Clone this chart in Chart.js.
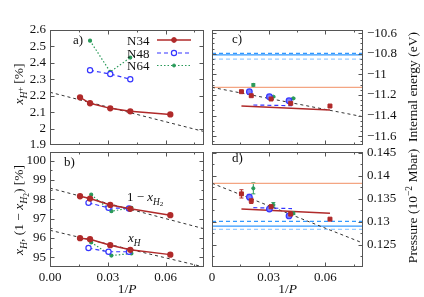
<!DOCTYPE html>
<html><head><meta charset="utf-8">
<script src="https://cdn.jsdelivr.net/npm/chart.js@4.4.1/dist/chart.umd.min.js"></script>
<style>
html,body{margin:0;padding:0;background:#fff;width:424px;height:297px;overflow:hidden}
canvas{position:absolute;left:0;top:0}
</style></head><body>
<canvas id="pa" width="424" height="297"></canvas>
<canvas id="pb" width="424" height="297"></canvas>
<canvas id="pc" width="424" height="297"></canvas>
<canvas id="pd" width="424" height="297"></canvas>
<script>
// ---------- data ----------
const xTicks = [0, 0.03, 0.06];
const xMinorTicks = [0.015, 0.045, 0.075];
const xFitEnds = [0, 0.08];

const invP_N34 = [0.0156, 0.0208, 0.0313, 0.0417, 0.0625];
const invP_N48 = [0.0208, 0.0313, 0.0417];
const invP_N64 = [0.0208, 0.0313, 0.0417];
const invP_N48_b = [0.0200, 0.0304, 0.0410];
const invP_N64_b = [0.0214, 0.0319, 0.0423];
const invP_N48_cd = [0.0198, 0.0304, 0.0408];
const invP_N64_cd = [0.0219, 0.0325, 0.0431];
const invP_fitN34 = [0.0156, 0.0625];
const invP_fitN48 = [0.0219, 0.0424];

// panel a: x_H+ [%]
const yTicksA = [1.9, 2.0, 2.1, 2.2, 2.3, 2.4, 2.5, 2.6];
const yMinorA = [];
const xHplus_N34 = [2.190, 2.154, 2.123, 2.105, 2.086];
const xHplus_N48 = [2.355, 2.332, 2.300];
const xHplus_N64 = [2.535, 2.345, 2.432];
const xHplus_fit = [2.221, 1.982];

// panel b: x_H and 1-x_H2 [%]
const yTicksB = [95, 96, 97, 98, 99, 100];
const yMinorB = [94.5, 95.5, 96.5, 97.5, 98.5, 99.5];
const oneMinusXH2_N34 = [98.16, 98.04, 97.71, 97.51, 97.18];
const oneMinusXH2_N48 = [97.82, 97.56, 97.53];
const oneMinusXH2_N64 = [98.24, 97.39, 97.56];
const oneMinusXH2_fit = [98.58, 96.48];
const xH_N34 = [95.99, 95.94, 95.63, 95.39, 95.14];
const xH_N48 = [95.48, 95.29, 95.29];
const xH_N64 = [95.77, 95.09, 95.20];
const xH_fit = [96.40, 94.50];

// panel c: internal energy (eV)
const yTicksC = [-11.6, -11.4, -11.2, -11.0, -10.8, -10.6];
const yMinorC = [-11.65,-11.55,-11.5,-11.45,-11.35,-11.3,-11.25,-11.15,-11.1,-11.05,-10.95,-10.9,-10.85,-10.75,-10.7,-10.65];
const E_N34 = [-11.168, -11.207, -11.239, -11.281, -11.307];
const E_N34_err = [0.006, 0.006, 0.005, 0.005, 0.004];
const E_N48 = [-11.168, -11.217, -11.256];
const E_N48_err = [0.006, 0.005, 0.005];
const E_N64 = [-11.103, -11.217, -11.233];
const E_N64_err = [0.013, 0.006, 0.005];
const E_fitN34 = [-11.307, -11.346];
const E_fitN48 = [-11.297, -11.304];
const E_extrap = [-11.126, -11.411];
const E_refOrange = -11.126;
const E_refBlue = [-10.796, -10.812, -10.852];

// panel d: pressure (1e-2 Mbar)
const yTicksD = [0.125, 0.13, 0.135, 0.14, 0.145];
const yMinorD = [0.1225, 0.1275, 0.1325, 0.1375, 0.1425];
const P_N34 = [0.1361, 0.1346, 0.1333, 0.1317, 0.1306];
const P_N34_err = [0.0009, 0.0006, 0.0004, 0.0003, 0.0002];
const P_N48 = [0.1354, 0.1328, 0.1313];
const P_N48_err = [0.0006, 0.0004, 0.0003];
const P_N64 = [0.1373, 0.1337, 0.1319];
const P_N64_err = [0.0012, 0.0005, 0.0003];
const P_fitN34 = [0.1328, 0.1319];
const P_fitN48 = [0.1331, 0.1329];
const P_extrap = [0.1384, 0.1254];
const P_refOrange = 0.1384;
const P_refBlue = [0.1301, 0.1291, 0.1284];

// ---------- styles ----------
const FONT = '"Liberation Serif","DejaVu Serif",serif';
const FS = 13;
const RED = '#b02a2a', BLUE = '#3535ff', GREEN = '#2a9a5a', DARK = '#333', ORANGE = '#f4a582', SKY = '#3399ff', SKY2 = '#99ccff';
const W = 424, H = 297;

function pts(xs, ys) { return xs.map((x, i) => ({x: x, y: ys[i]})); }
function hline(v) { return xFitEnds.map(x => ({x: x, y: v})); }

function drawRich(ctx, parts, x, y, rot, size, align) {
  ctx.save();
  ctx.translate(x, y); ctx.rotate(rot || 0);
  let w = 0;
  const items = parts.map(p => {
    const s = size * (p.s || 1);
    const font = (p.it ? 'italic ' : '') + s + 'px ' + FONT;
    ctx.font = font;
    const mw = ctx.measureText(p.t).width;
    w += mw;
    return {t: p.t, font: font, w: mw, dy: (p.dy || 0) * size};
  });
  let cx = align === 'center' ? -w / 2 : 0;
  ctx.textBaseline = 'alphabetic'; ctx.textAlign = 'left'; ctx.fillStyle = '#111';
  items.forEach(it => { ctx.font = it.font; ctx.fillText(it.t, cx, it.dy); cx += it.w; });
  ctx.restore();
}

function marker(ctx, style, x, y) {
  ctx.save();
  ctx.setLineDash([]);
  ctx.beginPath(); ctx.arc(x, y, style.r, 0, Math.PI * 2);
  ctx.fillStyle = style.fill; ctx.fill();
  ctx.lineWidth = style.bw || 1; ctx.strokeStyle = style.stroke; ctx.stroke();
  ctx.restore();
}

const deco = {
  id: 'deco',
  beforeDatasetsDraw(chart, args, o) {
    const ctx = chart.ctx, xs = chart.scales.x, ys = chart.scales.y;
    chart.data.datasets.forEach(ds => {
      if (!ds.errs) return;
      ctx.save(); ctx.strokeStyle = ds.errColor || ds.borderColor; ctx.lineWidth = 1; ctx.setLineDash([]);
      ds.data.forEach((p, j) => {
        const e = ds.errs[j]; if (!e) return;
        const px = xs.getPixelForValue(p.x), y1 = ys.getPixelForValue(p.y - e), y2 = ys.getPixelForValue(p.y + e);
        ctx.beginPath();
        ctx.moveTo(px, y1); ctx.lineTo(px, y2);
        ctx.moveTo(px - 2, y1); ctx.lineTo(px + 2, y1);
        ctx.moveTo(px - 2, y2); ctx.lineTo(px + 2, y2);
        ctx.stroke();
      });
      ctx.restore();
    });
  },
  afterDraw(chart, args, o) {
    const ctx = chart.ctx, a = chart.chartArea, xs = chart.scales.x, ys = chart.scales.y;
    const L = Math.round(a.left) + 0.5, R = Math.round(a.right) - 0.5, T = Math.round(a.top) + 0.5, B = Math.round(a.bottom) - 0.5;
    ctx.save();
    ctx.strokeStyle = '#555'; ctx.lineWidth = 1; ctx.setLineDash([]);
    ctx.strokeRect(L, T, R - L, B - T);
    ctx.beginPath();
    const xt = (list, len) => list.forEach(v => { const p = Math.round(xs.getPixelForValue(v)) + 0.5; if (p < L + 1 || p > R - 1) return; ctx.moveTo(p, B); ctx.lineTo(p, B - len); ctx.moveTo(p, T); ctx.lineTo(p, T + len); });
    const yt = (list, len) => list.forEach(v => { const p = Math.round(ys.getPixelForValue(v)) + 0.5; if (p < T + 1 || p > B - 1) return; ctx.moveTo(L, p); ctx.lineTo(L + len, p); ctx.moveTo(R, p); ctx.lineTo(R - len, p); });
    xt(o.xMajor, 4); xt(o.xMinor, 2); yt(o.yMajor, 4); yt(o.yMinor, 2);
    ctx.stroke();
    ctx.restore();
    (o.texts || []).forEach(t => drawRich(ctx, t.parts, t.x, t.y, t.rot || 0, t.size || FS, t.align));
    if (o.legend) {
      o.legend.forEach(l => {
        ctx.save();
        drawRich(ctx, [{t: l.label}], l.x, l.y + 4.5, 0, FS, 'left');
        ctx.strokeStyle = l.color; ctx.lineWidth = l.lw; ctx.setLineDash(l.dash);
        ctx.beginPath(); ctx.moveTo(l.x + 30, l.y); ctx.lineTo(l.x + 64, l.y); ctx.stroke();
        marker(ctx, l.marker, l.x + 47, l.y);
        ctx.restore();
      });
    }
  }
};

const sN34 = {r: 2.4, fill: RED, stroke: RED, bw: 1};
const sN48 = {r: 2.6, fill: '#fff', stroke: BLUE, bw: 1.2};
const sN64 = {r: 1.5, fill: GREEN, stroke: GREEN, bw: 1};

function dsN34(data) { return {data, borderColor: RED, borderWidth: 1.5, pointRadius: 2.4, pointBackgroundColor: RED, pointBorderColor: RED, tension: 0}; }
function dsN48(data) { return {data, borderColor: BLUE, borderWidth: 1.2, borderDash: [4, 3], pointRadius: 2.6, pointBackgroundColor: '#fff', pointBorderColor: BLUE, pointBorderWidth: 1.2}; }
function dsN64(data) { return {data, borderColor: GREEN, borderWidth: 1.2, borderDash: [1.5, 2], pointRadius: 1.5, pointBackgroundColor: GREEN, pointBorderColor: GREEN}; }
function dsFit(data) { return {data, borderColor: DARK, borderWidth: 1, borderDash: [3, 3], pointRadius: 0}; }
function dsLine(data, color, dash, lw) { return {data, borderColor: color, borderWidth: lw || 1.2, borderDash: dash || [], pointRadius: 0}; }
function dsPts(data, errs, style, shape) { return {data, errs, showLine: false, borderColor: style.stroke, pointStyle: shape, pointRadius: style.r, pointBackgroundColor: style.fill, pointBorderColor: style.stroke, pointBorderWidth: style.bw}; }

const fmtNum = (v, d) => Number(v.toFixed(d)).toString();

function makeChart(id, c) {
  const left = c.yPos === 'left';
  const yWidth = left ? c.area.l : W - c.area.r;
  const xHeight = H - c.area.b;
  return new Chart(document.getElementById(id), {
    type: 'line',
    data: {datasets: c.datasets},
    options: {
      responsive: false, animation: false, events: [],
      layout: {padding: {left: left ? 0 : c.area.l, right: left ? W - c.area.r : 0, top: c.area.t, bottom: 0}},
      plugins: {legend: {display: false}, tooltip: {enabled: false},
        deco: {xMajor: xTicks, xMinor: xMinorTicks, yMajor: c.yTicks, yMinor: c.yMinor, texts: c.texts, legend: c.legend}},
      scales: {
        x: {type: 'linear', min: 0, max: 0.08,
          grid: {display: false, drawTicks: false}, border: {display: false},
          ticks: {display: c.xLabels, padding: 3, color: '#111', font: {family: FONT, size: FS}, maxRotation: 0, autoSkip: false, callback: c.xFmt},
          afterBuildTicks: s => { s.ticks = xTicks.map(v => ({value: v})); },
          afterFit: s => { s.height = xHeight; }},
        y: {type: 'linear', position: c.yPos, min: c.yMin, max: c.yMax,
          grid: {display: false, drawTicks: false}, border: {display: false},
          ticks: {padding: 4, color: '#111', font: {family: FONT, size: FS}, autoSkip: false, callback: c.yFmt},
          afterBuildTicks: s => { s.ticks = c.yTicks.map(v => ({value: v})); },
          afterFit: s => { s.width = yWidth; }}
      }
    },
    plugins: [deco]
  });
}

const titleP = (cx) => ({parts: [{t: '1/'}, {t: 'P', it: 1}], x: cx, y: 293, align: 'center', size: 13.5});
const ROT = -Math.PI / 2;

// panel a
makeChart('pa', {
  area: {l: 50, t: 30, r: 204, b: 145}, yPos: 'left', yMin: 1.9, yMax: 2.6,
  yTicks: yTicksA, yMinor: yMinorA, xLabels: false,
  yFmt: v => fmtNum(v, 2),
  datasets: [
    dsN34(pts(invP_N34, xHplus_N34)),
    dsN48(pts(invP_N48, xHplus_N48)),
    dsN64(pts(invP_N64, xHplus_N64)),
    dsFit(pts(xFitEnds, xHplus_fit))
  ],
  texts: [
    {parts: [{t: 'a)'}], x: 73, y: 44, align: 'left'},
    {parts: [{t: 'x', it: 1}, {t: 'H', it: 1, s: 0.72, dy: 0.28}, {t: '+', s: 0.6, dy: -0.02}, {t: ' [%]'}], x: 23, y: 84, rot: ROT, align: 'center', size: 13.5}
  ],
  legend: [
    {label: 'N34', x: 127, y: 40, color: RED, lw: 1.5, dash: [], marker: sN34},
    {label: 'N48', x: 127, y: 53, color: BLUE, lw: 1.2, dash: [4, 3], marker: sN48},
    {label: 'N64', x: 127, y: 65.5, color: GREEN, lw: 1.2, dash: [1.5, 2], marker: sN64}
  ]
});

// panel b
makeChart('pb', {
  area: {l: 50, t: 152, r: 204, b: 267}, yPos: 'left', yMin: 94.5, yMax: 100.45,
  yTicks: yTicksB, yMinor: yMinorB, xLabels: true,
  xFmt: v => v.toFixed(2), yFmt: v => fmtNum(v, 1),
  datasets: [
    dsN34(pts(invP_N34, oneMinusXH2_N34)),
    dsN48(pts(invP_N48_b, oneMinusXH2_N48)),
    dsN64(pts(invP_N64_b, oneMinusXH2_N64)),
    dsN34(pts(invP_N34, xH_N34)),
    dsN48(pts(invP_N48_b, xH_N48)),
    dsN64(pts(invP_N64_b, xH_N64)),
    dsFit(pts(xFitEnds, oneMinusXH2_fit)),
    dsFit(pts(xFitEnds, xH_fit))
  ],
  texts: [
    {parts: [{t: 'b)'}], x: 64, y: 166, align: 'left'},
    {parts: [{t: '1 − '}, {t: 'x', it: 1}, {t: 'H', it: 1, s: 0.72, dy: 0.28}, {t: '2', s: 0.55, dy: 0.42}], x: 127, y: 201, align: 'left'},
    {parts: [{t: 'x', it: 1}, {t: 'H', it: 1, s: 0.72, dy: 0.28}], x: 128, y: 242, align: 'left'},
    {parts: [{t: 'x', it: 1}, {t: 'H', it: 1, s: 0.72, dy: 0.28}, {t: ', (1 − '}, {t: 'x', it: 1}, {t: 'H', it: 1, s: 0.72, dy: 0.28}, {t: '2', s: 0.55, dy: 0.42}, {t: ') [%]'}], x: 23, y: 210, rot: ROT, align: 'center', size: 13.5},
    titleP(127)
  ]
});

const sqN34 = {r: 2.8, fill: RED, stroke: RED, bw: 1};
const ciN48 = {r: 2.8, fill: '#7a7aff', stroke: BLUE, bw: 1.2};
const ciN64 = {r: 1.6, fill: GREEN, stroke: GREEN, bw: 1};

// panel c
makeChart('pc', {
  area: {l: 212, t: 30, r: 363, b: 145}, yPos: 'right', yMin: -11.685, yMax: -10.57,
  yTicks: yTicksC, yMinor: yMinorC, xLabels: false,
  yFmt: v => (v < 0 ? '−' : '') + fmtNum(Math.abs(v), 2),
  datasets: [
    dsPts(pts(invP_N34, E_N34), E_N34_err, sqN34, 'rect'),
    dsPts(pts(invP_N48_cd, E_N48), E_N48_err, ciN48, 'circle'),
    dsPts(pts(invP_N64_cd, E_N64), E_N64_err, ciN64, 'circle'),
    dsLine(pts(invP_fitN34, E_fitN34), RED, [], 1.5),
    dsLine(pts(invP_fitN48, E_fitN48), BLUE, [4, 3], 1.2),
    dsFit(pts(xFitEnds, E_extrap)),
    dsLine(hline(E_refOrange), ORANGE, [], 1.2),
    dsLine(hline(E_refBlue[0]), SKY, [4, 3], 1.2),
    dsLine(hline(E_refBlue[1]), SKY, [], 1.2),
    dsLine(hline(E_refBlue[2]), SKY2, [4, 3], 1.2)
  ],
  texts: [
    {parts: [{t: 'c)'}], x: 232, y: 43, align: 'left'},
    {parts: [{t: 'Internal energy (eV)'}], x: 417, y: 87, rot: ROT, align: 'center', size: 13.5}
  ]
});

// panel d
makeChart('pd', {
  area: {l: 212, t: 152, r: 363, b: 267}, yPos: 'right', yMin: 0.1202, yMax: 0.1452,
  yTicks: yTicksD, yMinor: yMinorD, xLabels: true,
  xFmt: v => v === 0 ? '0' : v.toFixed(2), yFmt: v => fmtNum(v, 3),
  datasets: [
    dsPts(pts(invP_N34, P_N34), P_N34_err, sqN34, 'rect'),
    dsPts(pts(invP_N48_cd, P_N48), P_N48_err, ciN48, 'circle'),
    dsPts(pts(invP_N64_cd, P_N64), P_N64_err, ciN64, 'circle'),
    dsLine(pts(invP_fitN34, P_fitN34), RED, [], 1.5),
    dsLine(pts(invP_fitN48, P_fitN48), BLUE, [4, 3], 1.2),
    dsFit(pts(xFitEnds, P_extrap)),
    dsLine(hline(P_refOrange), ORANGE, [], 1.2),
    dsLine(hline(P_refBlue[0]), SKY, [4, 3], 1.2),
    dsLine(hline(P_refBlue[1]), SKY, [], 1.2),
    dsLine(hline(P_refBlue[2]), SKY2, [4, 3], 1.2)
  ],
  texts: [
    {parts: [{t: 'd)'}], x: 232, y: 162, align: 'left'},
    {parts: [{t: 'Pressure (10'}, {t: '−2', s: 0.7, dy: -0.38}, {t: ' Mbar)'}], x: 417, y: 206, rot: ROT, align: 'center', size: 13.5},
    titleP(287.5)
  ]
});
</script>
</body></html>
